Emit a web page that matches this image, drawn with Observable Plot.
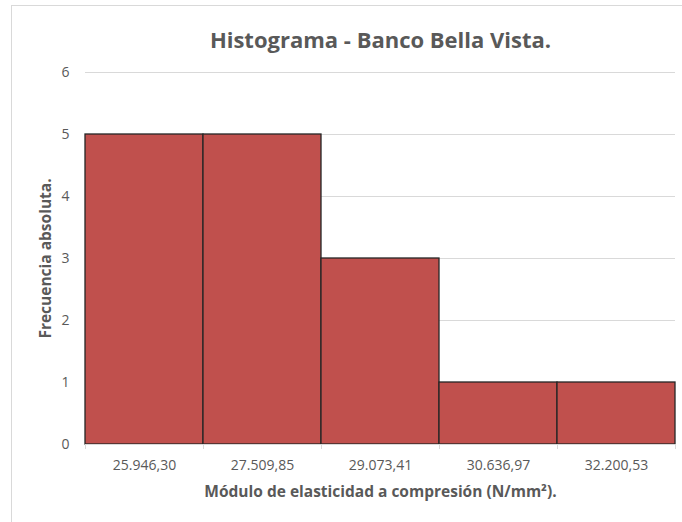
<!DOCTYPE html>
<html>
<head>
<meta charset="utf-8">
<script src="https://cdn.jsdelivr.net/npm/d3@7"></script>
<script src="https://cdn.jsdelivr.net/npm/@observablehq/plot@0.6"></script>
<style>
  html, body { margin: 0; padding: 0; background: #fff; }
  #wrap { position: relative; width: 682px; height: 522px; overflow: hidden; }
  #border { position: absolute; left: 11px; top: 5px; width: 700px; height: 560px;
            border: 1px solid #d9d9d9; box-sizing: border-box; }
  #chart { position: absolute; left: 0; top: 0; }
</style>
</head>
<body>
<div id="wrap"><div id="border"></div><div id="chart"></div></div>
<script>
// Class marks (N/mm²) and absolute frequencies
const classLabels = ["25.946,30", "27.509,85", "29.073,41", "30.636,97", "32.200,53"];
const frequencies = [5, 5, 3, 1, 1];
const yTicks = [0, 1, 2, 3, 4, 5, 6];

const titleText = "Histograma - Banco Bella Vista.";
const xTitle = "Módulo de elasticidad a compresión (N/mm²).";
const yTitle = "Frecuencia absoluta.";

const bins = classLabels.map((label, i) => ({label, x1: i, x2: i + 1, freq: frequencies[i]}));
const boundaries = d3.range(classLabels.length + 1);
const centers = classLabels.map((_, i) => i + 0.5);

const font = "Open Sans, Calibri, sans-serif";
const grey = "#595959";

const chart = Plot.plot({
  width: 682,
  height: 522,
  marginLeft: 85,
  marginRight: 7,
  marginTop: 72,
  marginBottom: 78,
  style: {fontFamily: font, background: "transparent", overflow: "visible"},
  x: {domain: [0, classLabels.length], axis: null},
  y: {domain: [0, 6], axis: null},
  marks: [
    Plot.gridY(yTicks.slice(1), {stroke: "#d9d9d9", strokeOpacity: 1}),
    Plot.axisY(yTicks, {tickSize: 0, tickPadding: 16, fontSize: 14, fill: grey, label: null, tickFormat: d => d}),
    Plot.rectY(bins, {x1: "x1", x2: "x2", y: "freq", fill: "#c0504d", stroke: "#262626", strokeWidth: 1.3, inset: 0}),
    Plot.ruleY([0], {stroke: "#d9d9d9"}),
    Plot.axisX(boundaries, {tickSize: 5, stroke: "#d9d9d9", tickFormat: () => "", label: null}),
    Plot.axisX(centers, {tickSize: 0, tickPadding: 16, fontSize: 14, fill: grey, label: null,
      tickFormat: d => classLabels[Math.floor(d)]}),
    Plot.text([titleText], {frameAnchor: "top", dy: -40, fontSize: 22, fontWeight: "bold", fill: grey}),
    Plot.text([xTitle], {frameAnchor: "bottom", dy: 52, fontSize: 15.5, fontWeight: "bold", fill: grey}),
    Plot.text([yTitle], {frameAnchor: "left", textAnchor: "middle", dx: -39, rotate: -90, fontSize: 15.5, fontWeight: "bold", fill: grey})
  ]
});
document.getElementById("chart").appendChild(chart);
</script>
</body>
</html>
